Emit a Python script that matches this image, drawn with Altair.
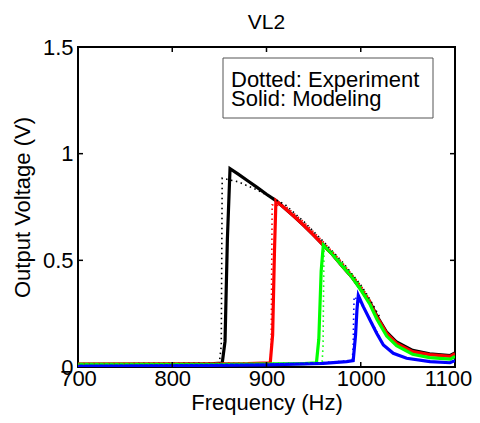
import altair as alt
import pandas as pd

FONT = "Liberation Sans"

# ---------------- data ----------------
# Modeling (solid)
black_model_f = [700, 750, 800, 840, 853, 856, 858.5, 861.3, 870, 880, 890, 900, 910, 920, 930, 940, 950, 960, 970, 980, 990, 1000, 1010, 1017, 1027.5, 1038, 1055, 1073, 1095, 1100]
black_model_v = [0.012, 0.012, 0.013, 0.015, 0.018, 0.12, 0.6, 0.93, 0.904, 0.873, 0.842, 0.81, 0.78, 0.742, 0.703, 0.662, 0.618, 0.572, 0.528, 0.475, 0.425, 0.365, 0.302, 0.24, 0.163, 0.117, 0.078, 0.062, 0.054, 0.066]

red_model_f = [700, 800, 880, 904, 906.5, 908.5, 910, 920, 930, 940, 950, 960, 970, 980, 990, 1000, 1010, 1017, 1027.5, 1038, 1055, 1073, 1095, 1100]
red_model_v = [0.014, 0.015, 0.016, 0.02, 0.15, 0.55, 0.78, 0.742, 0.703, 0.662, 0.618, 0.572, 0.528, 0.475, 0.425, 0.365, 0.3, 0.236, 0.158, 0.111, 0.072, 0.058, 0.05, 0.062]

green_model_f = [700, 850, 940, 953, 955.5, 958, 960.3, 970, 980, 990, 1000, 1010, 1017, 1027.5, 1038, 1055, 1073, 1095, 1100]
green_model_v = [0.012, 0.013, 0.016, 0.02, 0.13, 0.45, 0.572, 0.528, 0.475, 0.425, 0.362, 0.292, 0.225, 0.145, 0.1, 0.06, 0.044, 0.037, 0.05]

blue_model_f = [700, 800, 900, 960, 985, 992, 994.5, 996, 997.4, 1002.7, 1009.8, 1016.9, 1024, 1034.5, 1048.7, 1073.5, 1094.7, 1100]
blue_model_v = [0.004, 0.006, 0.01, 0.017, 0.025, 0.03, 0.15, 0.27, 0.335, 0.283, 0.22, 0.158, 0.103, 0.064, 0.041, 0.025, 0.02, 0.03]

# Experiment (dotted)
black_exp_f = [700, 800, 850, 852, 852.5, 853, 870, 890, 905, 920, 940, 960, 980, 1000, 1010, 1020]
black_exp_v = [0.015, 0.016, 0.02, 0.1, 0.5, 0.885, 0.868, 0.83, 0.795, 0.76, 0.68, 0.59, 0.495, 0.385, 0.315, 0.235]

red_exp_f = [700, 800, 904, 905, 905.5, 906, 920, 940, 960, 980, 1000, 1012]
red_exp_v = [0.016, 0.017, 0.02, 0.1, 0.45, 0.76, 0.755, 0.678, 0.588, 0.492, 0.382, 0.3]

green_exp_f = [700, 850, 959, 960, 960.5, 961, 970, 980, 990, 1000, 1010]
green_exp_v = [0.014, 0.015, 0.02, 0.1, 0.35, 0.548, 0.542, 0.49, 0.44, 0.38, 0.312]

blue_exp_f = [700, 850, 950, 991, 992, 992.5, 993, 1000, 1010, 1020]
blue_exp_v = [0.006, 0.01, 0.018, 0.03, 0.1, 0.25, 0.33, 0.3, 0.225, 0.14]

x_ticks = [700, 800, 900, 1000, 1100]
y_ticks = [0, 0.5, 1, 1.5]
inner_x_ticks = [800, 900, 1000]
inner_y_ticks = [0.5, 1]
legend_lines = ["Dotted: Experiment", "Solid: Modeling"]

W, H = 377, 320
FS = 22

xscale = alt.Scale(domain=[700, 1100], nice=False, zero=False)
yscale = alt.Scale(domain=[0, 1.5], nice=False)

xaxis = alt.Axis(values=x_ticks, title="Frequency (Hz)", grid=False, domain=False, ticks=False,
                 labelFlush=False, labelOverlap=False, labelPadding=1, titlePadding=3,
                 labelExpr="'' + datum.value",
                 labelOffset={"expr": "datum.value == 1100 ? -7 : 0"},
                 labelFontSize=FS, titleFontSize=FS, labelFont=FONT, titleFont=FONT,
                 titleFontWeight="normal", labelColor="black", titleColor="black")
yaxis = alt.Axis(values=y_ticks, title="Output Voltage (V)", grid=False, domain=False, ticks=False,
                 labelFlush=False, labelOverlap=False, labelPadding=5, titlePadding=8,
                 labelExpr="'' + datum.value",
                 labelFontSize=FS, titleFontSize=FS, labelFont=FONT, titleFont=FONT,
                 titleFontWeight="normal", labelColor="black", titleColor="black")


def X(field):
    return alt.X(field, scale=xscale, axis=xaxis)


def Y(field):
    return alt.Y(field, scale=yscale, axis=yaxis)


def line_layer(f, v, color, dotted):
    df = pd.DataFrame({"f": f, "v": v, "i": list(range(len(f)))})
    if dotted:
        mark = alt.Chart(df).mark_line(color=color, strokeWidth=1.6, strokeDash=[1.5, 3.5], clip=True)
    else:
        mark = alt.Chart(df).mark_line(color=color, strokeWidth=3.2, clip=True)
    return mark.encode(x=X("f:Q"), y=Y("v:Q"), order="i:Q")


layers = [
    line_layer(black_model_f, black_model_v, "#000000", False),
    line_layer(red_model_f, red_model_v, "#ff0000", False),
    line_layer(green_model_f, green_model_v, "#00ff00", False),
    line_layer(blue_model_f, blue_model_v, "#0000ff", False),
    line_layer(black_exp_f, black_exp_v, "#000000", True),
    line_layer(red_exp_f, red_exp_v, "#ff0000", True),
    line_layer(green_exp_f, green_exp_v, "#00ff00", True),
    line_layer(blue_exp_f, blue_exp_v, "#0000ff", True),
]

# inward tick marks (MATLAB style)
xt = pd.DataFrame({"f": inner_x_ticks})
yt = pd.DataFrame({"v": inner_y_ticks})
for y0, y1 in [(H, H - 5), (0, 5)]:
    layers.append(alt.Chart(xt).mark_rule(color="black", strokeWidth=1.5).encode(
        x=X("f:Q"), y=alt.value(y0), y2=alt.value(y1)))
for x0, x1 in [(0, 5), (W, W - 5)]:
    layers.append(alt.Chart(yt).mark_rule(color="black", strokeWidth=1.5).encode(
        y=Y("v:Q"), x=alt.value(x0), x2=alt.value(x1)))

# legend box with text
box = alt.Chart(pd.DataFrame({"k": [0]})).mark_rect(fill="white", stroke="#555555", strokeWidth=1).encode(
    x=alt.value(145), x2=alt.value(355), y=alt.value(11), y2=alt.value(71))
layers.append(box)
for j, txt in enumerate(legend_lines):
    layers.append(alt.Chart(pd.DataFrame({"s": [txt]})).mark_text(
        align="left", baseline="alphabetic", fontSize=22, font=FONT, color="black").encode(
        text="s:N", x=alt.value(153), y=alt.value(39.5 + 19 * j)))

chart = alt.layer(*layers).properties(
    width=W, height=H,
    title=alt.Title("VL2", fontSize=21, font=FONT, fontWeight="normal", color="black", offset=3),
    autosize=alt.AutoSizeParams(type="none"),
    padding={"left": 70, "top": 39, "right": 17, "bottom": 48},
).configure(
    background="white",
    view=alt.ViewConfig(stroke="black", strokeWidth=2),
)

chart.save("out.html", embed_options={"renderer": "svg", "actions": False})
